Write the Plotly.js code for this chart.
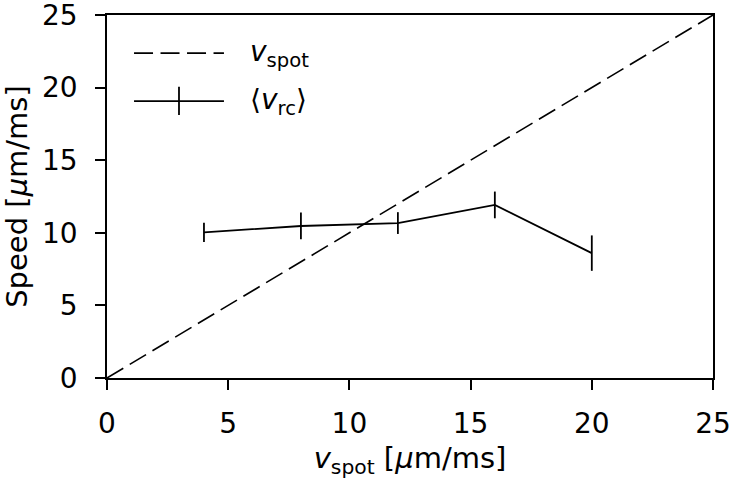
<!DOCTYPE html>
<html>
<head>
<meta charset="utf-8">
<script src="https://cdn.plot.ly/plotly-3.0.1.min.js"></script>
<style>html,body{margin:0;padding:0;background:#fff;}</style>
</head>
<body>
<div id="chart" style="width:733px;height:480px;"></div>
<script>
// Data
const vSpot = [4, 8, 12, 16, 20];
const vRc = [10.03, 10.47, 10.67, 11.92, 8.6];
const vRcErr = [0.66, 0.92, 0.75, 0.92, 1.22];
const diagX = [0, 25];
const diagY = [0, 25];
const tickVals = [0, 5, 10, 15, 20, 25];

const FONT = 'DejaVu Sans, sans-serif';
const TICK = 28;
const TITLE = 29;

const traces = [
  {
    x: diagX, y: diagY, mode: 'lines', type: 'scatter',
    line: {color: '#000', width: 1.6, dash: '19px,7.5px'},
    showlegend: false, hoverinfo: 'skip'
  },
  {
    x: vSpot, y: vRc, mode: 'lines', type: 'scatter',
    line: {color: '#000', width: 1.8},
    error_y: {type: 'data', array: vRcErr, visible: true, color: '#000', thickness: 1.8, width: 0},
    showlegend: false
  }
];

const layout = {
  width: 733, height: 480,
  margin: {l: 107, r: 20, t: 15, b: 102},
  paper_bgcolor: '#fff', plot_bgcolor: '#fff',
  font: {family: FONT, color: '#000', size: TICK},
  xaxis: {
    range: [0, 25], tickvals: tickVals, ticks: 'outside', ticklen: 10, tickwidth: 1.8, tickcolor: '#000',
    showline: true, linecolor: '#000', linewidth: 1.8, mirror: true, showgrid: false, zeroline: false,
    tickfont: {size: TICK, family: FONT}, automargin: false, ticklabelstandoff: 10, ticklabeloverflow: 'allow',
    title: {text: '<i>v</i><sub>spot</sub> [<i>μ</i>m/ms]', font: {size: TITLE, family: FONT}, standoff: 8}
  },
  yaxis: {
    range: [0, 25], tickvals: tickVals, ticks: 'outside', ticklen: 10, tickwidth: 1.8, tickcolor: '#000',
    showline: true, linecolor: '#000', linewidth: 1.8, mirror: true, showgrid: false, zeroline: false,
    tickfont: {size: TICK, family: FONT}, automargin: false, ticklabelstandoff: 12, ticklabeloverflow: 'allow',
    title: {text: 'Speed [<i>μ</i>m/ms]', font: {size: TITLE, family: FONT}, standoff: 10}
  },
  shapes: [
    {type: 'line', xref: 'paper', yref: 'paper', x0: 0.0446, x1: 0.193, y0: 0.895, y1: 0.895,
     line: {color: '#000', width: 1.6, dash: '19px,7.5px'}},
    {type: 'line', xref: 'paper', yref: 'paper', x0: 0.0446, x1: 0.193, y0: 0.763, y1: 0.763,
     line: {color: '#000', width: 1.8}},
    {type: 'line', xref: 'paper', yref: 'paper', x0: 0.1188, x1: 0.1188, y0: 0.7245, y1: 0.802,
     line: {color: '#000', width: 1.8}}
  ],
  annotations: [
    {xref: 'paper', yref: 'paper', x: 0.2327, y: 0.895, xanchor: 'left', yanchor: 'middle', showarrow: false,
     text: '<i>v</i><sub>spot</sub>', font: {size: TICK, family: FONT}},
    {xref: 'paper', yref: 'paper', x: 0.2327, y: 0.763, xanchor: 'left', yanchor: 'middle', showarrow: false,
     text: '⟨<i>v</i><sub>rc</sub>⟩', font: {size: TICK, family: FONT}}
  ]
};

Plotly.newPlot('chart', traces, layout, {staticPlot: true, displayModeBar: false});
</script>
</body>
</html>
